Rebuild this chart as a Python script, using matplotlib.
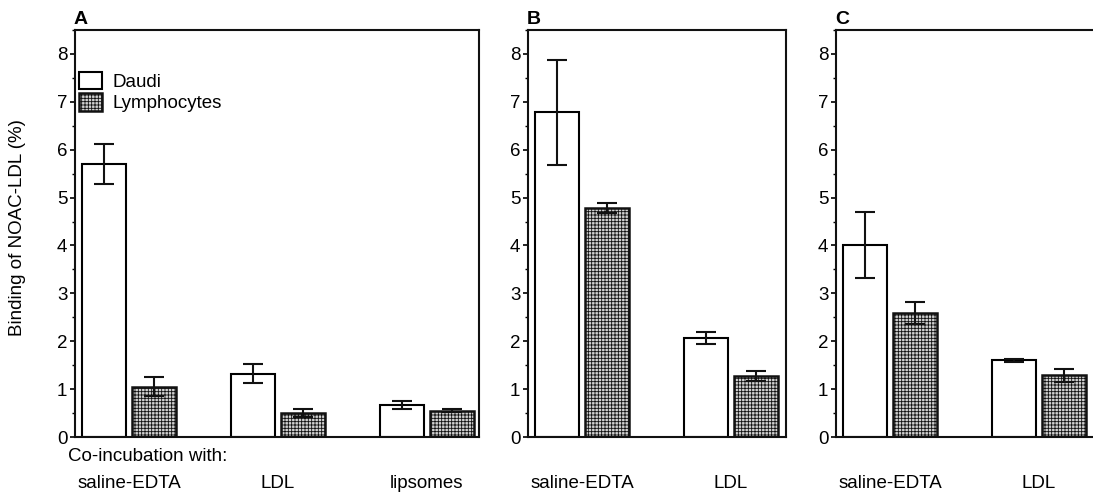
import numpy as np
import matplotlib
matplotlib.use('Agg')
import matplotlib.pyplot as plt
from matplotlib.ticker import MultipleLocator

plt.rcParams['font.family'] = ['Liberation Sans', 'DejaVu Sans']
plt.rcParams['hatch.linewidth'] = 0.6
plt.rcParams['hatch.color'] = '#3a3a3a'

# panel A: saline-EDTA, LDL, lipsomes
a_groups = ['saline-EDTA', 'LDL', 'lipsomes']
a_daudi = [5.70, 1.32, 0.67]
a_daudi_err = [0.42, 0.20, 0.09]
a_lymph = [1.05, 0.50, 0.55]
a_lymph_err = [0.20, 0.08, 0.03]

# panel B
b_groups = ['saline-EDTA', 'LDL']
b_daudi = [6.78, 2.07]
b_daudi_err = [1.10, 0.12]
b_lymph = [4.78, 1.27]
b_lymph_err = [0.10, 0.11]

# panel C
c_groups = ['saline-EDTA', 'LDL']
c_daudi = [4.01, 1.60]
c_daudi_err = [0.68, 0.03]
c_lymph = [2.59, 1.29]
c_lymph_err = [0.23, 0.14]

panels = [
    ('A', a_groups, a_daudi, a_daudi_err, a_lymph, a_lymph_err),
    ('B', b_groups, b_daudi, b_daudi_err, b_lymph, b_lymph_err),
    ('C', c_groups, c_daudi, c_daudi_err, c_lymph, c_lymph_err),
]

W, H = 1093, 495
fig = plt.figure(figsize=(W / 100, H / 100), dpi=100)

# axes boxes in pixels: left, right
boxes = [(75, 479), (528, 786), (836, 1095)]
y_top, y_bot = 30, 437

off = 0.168
bw = 0.29
lw = 1.5
fs = 13.5

for (letter, groups, daudi, derr, lymph, lerr), (x0, x1) in zip(panels, boxes):
    ax = fig.add_axes([x0 / W, (H - y_bot) / H, (x1 - x0) / W, (y_bot - y_top) / H])
    x = np.arange(len(groups))
    b1 = ax.bar(x - off, daudi, bw, color='white', edgecolor='black', linewidth=lw,
                label='Daudi', zorder=2)
    b2 = ax.bar(x + off, lymph, bw, color='#d0d0d0', edgecolor='#111111', linewidth=lw + 0.3,
                hatch='+++++', label='Lymphocytes', zorder=2)
    ax.errorbar(x - off, daudi, yerr=derr, fmt='none', ecolor='#111111', elinewidth=1.5,
                capsize=7, capthick=1.5, zorder=3)
    ax.errorbar(x + off, lymph, yerr=lerr, fmt='none', ecolor='#111111', elinewidth=1.5,
                capsize=7, capthick=1.5, zorder=3)
    ax.set_ylim(0, 8.5)
    # same x scale in every panel
    ax.set_xlim(-0.362, -0.362 + (x1 - x0) / 149)
    ax.yaxis.set_major_locator(MultipleLocator(1))
    ax.yaxis.set_minor_locator(MultipleLocator(0.5))
    ax.tick_params(axis='y', which='major', direction='out', length=3.5, width=1.2,
                   labelsize=fs, pad=2)
    ax.tick_params(axis='y', which='minor', direction='out', length=2, width=1.0)
    ax.set_xticks(x)
    ax.set_xticklabels(groups)
    ax.tick_params(axis='x', length=0, labelsize=fs, pad=27)
    for s in ax.spines.values():
        s.set_linewidth(lw)
        s.set_color('#111111')
    if letter == 'C':
        ax.spines['right'].set_visible(False)
    ax.text(-0.004, 1.006, letter, transform=ax.transAxes, fontsize=14, fontweight='bold',
            ha='left', va='bottom')
    if letter == 'A':
        ax.legend(handles=[b1, b2], loc='upper left', bbox_to_anchor=(-0.017, 0.925),
                  frameon=False, fontsize=fs, handlelength=1.23, handleheight=1.05,
                  handletextpad=0.55, labelspacing=0.12, borderaxespad=0.2)
        ax.text(-0.018, -0.028, 'Co-incubation with:', transform=ax.transAxes,
                fontsize=fs, ha='left', va='top')

fig.text(18 / W, 1 - 228 / H, 'Binding of NOAC-LDL (%)', rotation=90, fontsize=fs,
         ha='center', va='center')

fig.savefig('out.png', dpi=100)
